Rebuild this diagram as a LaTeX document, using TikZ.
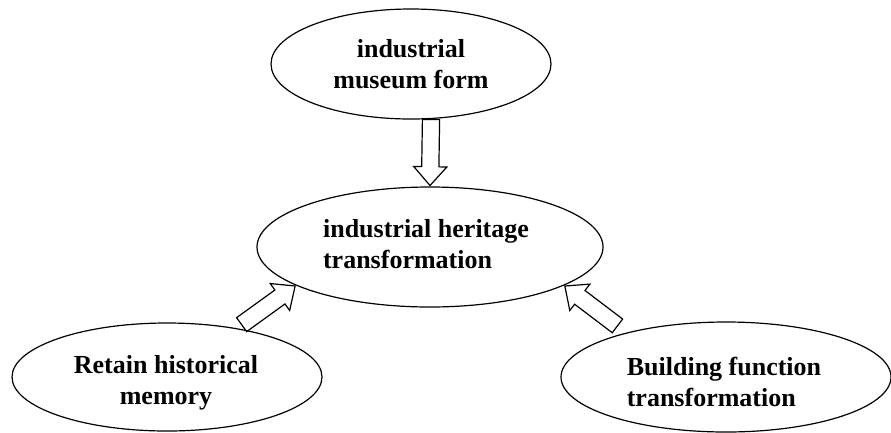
\documentclass[tikz,border=0pt]{standalone}
\usepackage{fontspec}
\setmainfont{Liberation Serif}
\usetikzlibrary{shapes.geometric,shapes.arrows}

\begin{document}
\begin{tikzpicture}
[every node/.style={inner sep=0pt, font=\fontsize{26}{31}\selectfont\bfseries},
 oval/.style={ellipse, draw=black, line width=1.2pt},
 blockarrow/.style={single arrow, draw=black, line width=1.2pt, inner xsep=0pt, inner ysep=8pt, minimum height=66pt, single arrow head extend=8pt, single arrow tip angle=83, sloped, allow upside down, pos=1, anchor=tip}]
\useasboundingbox (0pt, 0pt) rectangle (891pt, -432pt);
\node (museum) [oval, minimum width=280pt, minimum height=110pt, align=center] at (411pt, -64pt) {industrial\\museum form};
\node (heritage) [oval, minimum width=346pt, minimum height=120pt] at (430pt, -247pt) {};
\node (heritagetext) [align=left] at (426pt, -244pt) {industrial heritage\\transformation};
\node (memory) [oval, minimum width=310pt, minimum height=108pt] at (167pt, -377pt) {};
\node (memorytext) [align=center] at (166pt, -383pt) {Retain historical\\memory};
\node (function) [oval, minimum width=330pt, minimum height=110pt] at (726pt, -377pt) {};
\node (functiontext) [align=left] at (724pt, -382pt) {Building function\\transformation};
\path (museum.-70) -- (heritage.north) node [blockarrow] {};
\path (memory.35) -- (heritage.196) node [blockarrow] {};
\path (function.156) -- (heritage.-16) node [blockarrow] {};
\end{tikzpicture}
\end{document}
